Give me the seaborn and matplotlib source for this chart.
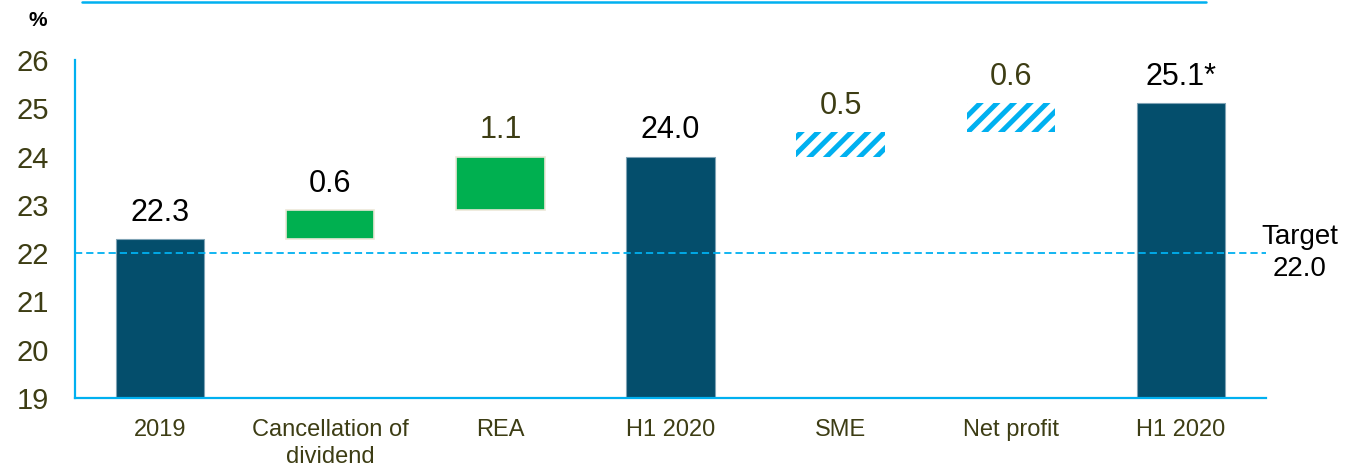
import numpy as np
import pandas as pd
import matplotlib
matplotlib.use("Agg")
import matplotlib.pyplot as plt
from matplotlib.lines import Line2D
import seaborn as sns

# ---- data ----
steps = ["2019", "Cancellation of\ndividend", "REA", "H1 2020", "SME", "Net profit", "H1 2020"]
values = [22.3, 0.6, 1.1, 24.0, 0.5, 0.6, 25.1]
kinds = ["total", "change", "change", "total", "hatched", "hatched", "total"]
value_labels = ["22.3", "0.6", "1.1", "24.0", "0.5", "0.6", "25.1*"]
target = 22.0
y_ticks = [19, 20, 21, 22, 23, 24, 25, 26]

# waterfall bases
bottoms, heights = [], []
running = 0.0
for v, k in zip(values, kinds):
    if k == "total":
        bottoms.append(0.0)
        heights.append(v)
        running = v
    else:
        bottoms.append(running)
        heights.append(v)
        running += v
bottoms = np.array(bottoms)
heights = np.array(heights)

df = pd.DataFrame({"step": np.arange(len(steps)), "height": heights})

sns.set_style("white")
plt.rcParams["font.family"] = ["Liberation Sans", "DejaVu Sans"]
plt.rcParams["hatch.linewidth"] = 3.6

NAVY = "#044e6c"
GREEN = "#00b050"
CYAN = "#00b0f0"
OLIVE = "#3d3d14"

fig = plt.figure(figsize=(13.47, 4.66), dpi=100)
ax = fig.add_axes([75 / 1347, 68 / 466, (1266 - 75) / 1347, (398 - 60) / 466])

sns.barplot(data=df, x="step", y="height", ax=ax, width=0.52, errorbar=None,
            color=NAVY, bottom=bottoms, saturation=1)

for p, k in zip(ax.patches, kinds):
    if k == "total":
        p.set_facecolor(NAVY)
        p.set_edgecolor("#7fa3b5")
        p.set_linewidth(0.8)
    elif k == "change":
        p.set_facecolor(GREEN)
        p.set_edgecolor("#ece8d8")
        p.set_linewidth(1.2)
    else:
        p.set_facecolor("white")
        p.set_edgecolor(CYAN)
        p.set_hatch("//")
        p.set_linewidth(0)
    p.set_zorder(2)

ax.axhline(target, color=CYAN, lw=1.3, ls=(0, (4, 2.2)), zorder=3)

ax.set_ylim(19, 26)
ax.set_xlim(-0.5, len(steps) - 0.5)
ax.set_yticks(y_ticks)
ax.set_yticklabels([str(t) for t in y_ticks], fontsize=21, color=OLIVE)
ax.set_xticks(np.arange(len(steps)))
ax.set_xticklabels(steps, fontsize=17, color=OLIVE, linespacing=1.32)
ax.tick_params(axis="y", length=0, pad=19)
ax.tick_params(axis="x", length=0, pad=15)
ax.set_xlabel("")
ax.set_ylabel("")

for side in ["top", "right"]:
    ax.spines[side].set_visible(False)
for side in ["left", "bottom"]:
    ax.spines[side].set_color(CYAN)
    ax.spines[side].set_linewidth(1.6)

for i, (b, h, k, lab) in enumerate(zip(bottoms, heights, kinds, value_labels)):
    top = b + h
    col = OLIVE if k != "total" and i != 1 else "black"
    ax.annotate(lab, (i, top), xytext=(0, 8), textcoords="offset points",
                ha="center", va="bottom", fontsize=22, color=col)

ax.text(1.0285, target, "Target\n22.0", transform=ax.get_yaxis_transform(),
        ha="center", va="center", fontsize=20, color="black", linespacing=1.3,
        clip_on=False)

fig.text(38 / 1347, 1 - 20 / 466, "%", fontsize=15, fontweight="bold",
         ha="center", va="center", color="black")

fig.add_artist(Line2D([82 / 1347, 1206 / 1347], [1 - 1.5 / 466, 1 - 1.5 / 466],
                      transform=fig.transFigure, color=CYAN, lw=1.8))

fig.savefig("out.png", dpi=100)
